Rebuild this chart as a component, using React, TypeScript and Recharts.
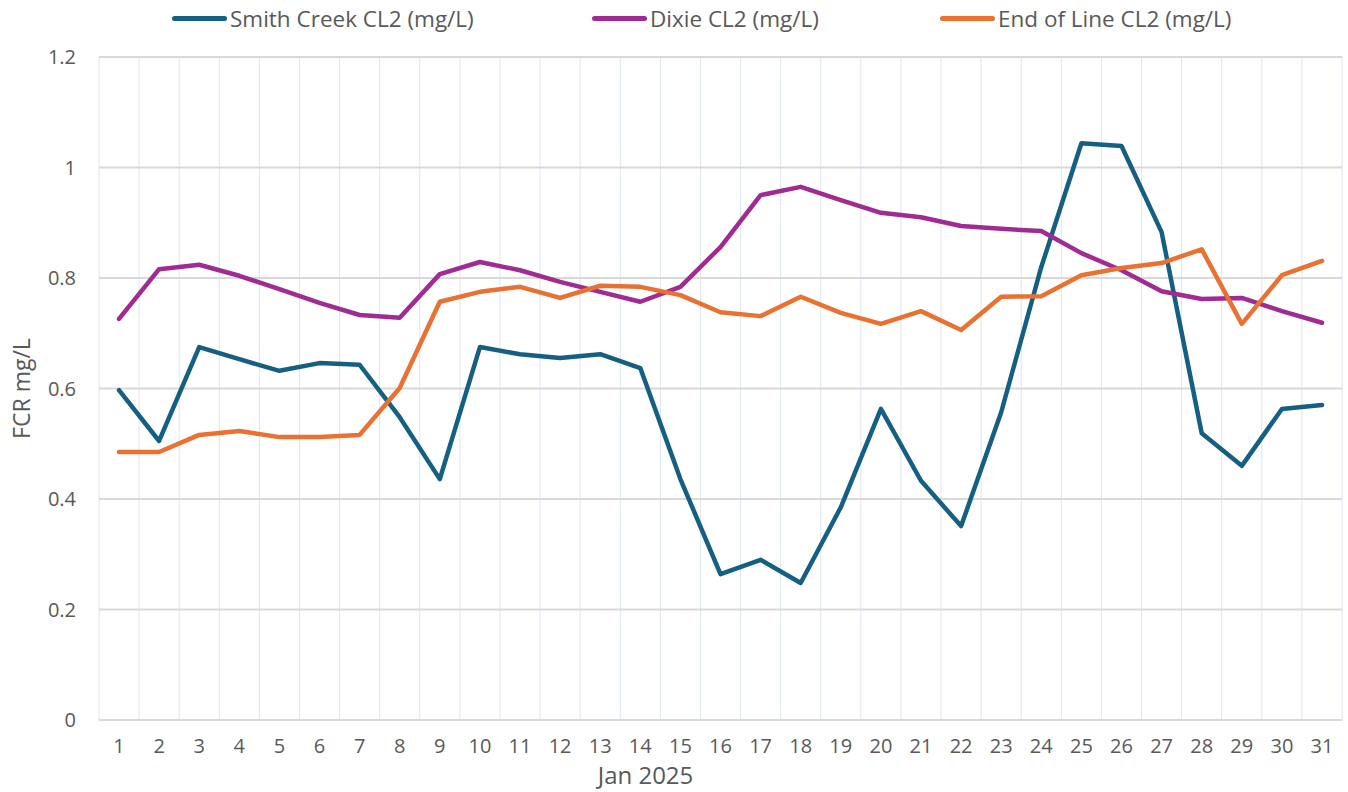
import { LineChart, Line, XAxis, YAxis, CartesianGrid } from "recharts";

const days = Array.from({ length: 31 }, (_, i) => String(i + 1));

const smithCreek = [
  0.597, 0.505, 0.675, 0.653, 0.632, 0.646, 0.643, 0.548, 0.436, 0.675, 0.662,
  0.655, 0.662, 0.637, 0.436, 0.264, 0.29, 0.248, 0.385, 0.563, 0.433, 0.351,
  0.557, 0.82, 1.044, 1.039, 0.883, 0.519, 0.46, 0.563, 0.57,
];

const dixie = [
  0.726, 0.816, 0.824, 0.804, 0.78, 0.755, 0.733, 0.728, 0.807, 0.829, 0.814,
  0.793, 0.775, 0.757, 0.784, 0.856, 0.95, 0.965, 0.941, 0.918, 0.91, 0.894,
  0.889, 0.885, 0.845, 0.814, 0.776, 0.762, 0.764, 0.74, 0.719,
];

const endOfLine = [
  0.485, 0.485, 0.516, 0.523, 0.512, 0.512, 0.516, 0.601, 0.757, 0.775, 0.784,
  0.764, 0.786, 0.784, 0.769, 0.738, 0.731, 0.766, 0.737, 0.717, 0.74, 0.706,
  0.766, 0.767, 0.805, 0.818, 0.827, 0.852, 0.717, 0.805, 0.831,
];

const yTicks = [0, 0.2, 0.4, 0.6, 0.8, 1, 1.2];

const SERIES = [
  { key: "smith", name: "Smith Creek CL2 (mg/L)", color: "#156082", left: 172 },
  { key: "dixie", name: "Dixie CL2 (mg/L)", color: "#A02B93", left: 592 },
  { key: "eol", name: "End of Line CL2 (mg/L)", color: "#E97132", left: 940 },
];

const data = days.map((d, i) => ({
  day: d,
  smith: smithCreek[i],
  dixie: dixie[i],
  eol: endOfLine[i],
}));

const FONT = "'Open Sans', sans-serif";
const TEXT = "#595959";

// legend drawn as plain html above the plot, Excel-style
function ChartLegend() {
  return (
    <div style={{ position: "absolute", left: 0, top: 0, height: 36, width: 1348 }}>
      {SERIES.map((s) => (
        <div
          key={s.key}
          style={{
            position: "absolute",
            left: s.left,
            top: 0,
            display: "flex",
            alignItems: "center",
            height: 36,
          }}
        >
          <span
            style={{
              display: "inline-block",
              width: 55,
              height: 5,
              borderRadius: 3,
              background: s.color,
              marginRight: 3,
            }}
          />
          <span style={{ fontFamily: FONT, fontSize: 22.5, color: TEXT, whiteSpace: "nowrap" }}>
            {s.name}
          </span>
        </div>
      ))}
    </div>
  );
}

function YLabel(props: any) {
  const { viewBox } = props;
  const x = 21;
  const y = viewBox.y + viewBox.height / 2;
  return (
    <text
      x={x}
      y={y}
      transform={`rotate(-90, ${x}, ${y})`}
      textAnchor="middle"
      dominantBaseline="central"
      fill={TEXT}
      fontFamily={FONT}
      fontSize={23}
    >
      FCR mg/L
    </text>
  );
}

export default function App() {
  return (
    <div style={{ position: "absolute", left: 0, top: 0, width: 1348, height: 792, background: "#fff" }}>
      <LineChart
        width={1348}
        height={792}
        data={data}
        margin={{ top: 57, right: 6, bottom: 0, left: 0 }}
      >
        <CartesianGrid
          horizontal={false}
          stroke="#dce6f2"
          strokeWidth={1}
          verticalCoordinatesGenerator={({ offset }: any) => {
            const step = offset.width / days.length;
            return Array.from({ length: days.length + 1 }, (_, i) => offset.left + i * step);
          }}
        />
        <CartesianGrid vertical={false} stroke="#d9d9d9" strokeWidth={2} />
        <XAxis
          dataKey="day"
          interval={0}
          height={72}
          padding={{ left: 20, right: 20 }}
          axisLine={{ stroke: "#d9d9d9", strokeWidth: 2 }}
          tickLine={false}
          tickMargin={13}
          tick={{ fill: TEXT, fontFamily: FONT, fontSize: 20 }}
          label={{
            value: "Jan 2025",
            position: "insideBottom",
            offset: 8,
            dx: -75,
            fill: TEXT,
            fontFamily: FONT,
            fontSize: 24,
          }}
        />
        <YAxis
          width={99}
          domain={[0, 1.2]}
          ticks={yTicks}
          axisLine={false}
          tickLine={false}
          tickMargin={17}
          tick={{ fill: TEXT, fontFamily: FONT, fontSize: 20 }}
          label={<YLabel />}
        />
        {SERIES.map((s) => (
          <Line
            key={s.key}
            type="linear"
            dataKey={s.key}
            name={s.name}
            stroke={s.color}
            strokeWidth={4.5}
            strokeLinejoin="round"
            strokeLinecap="round"
            dot={false}
            activeDot={false}
            isAnimationActive={false}
          />
        ))}
      </LineChart>
      <ChartLegend />
    </div>
  );
}
